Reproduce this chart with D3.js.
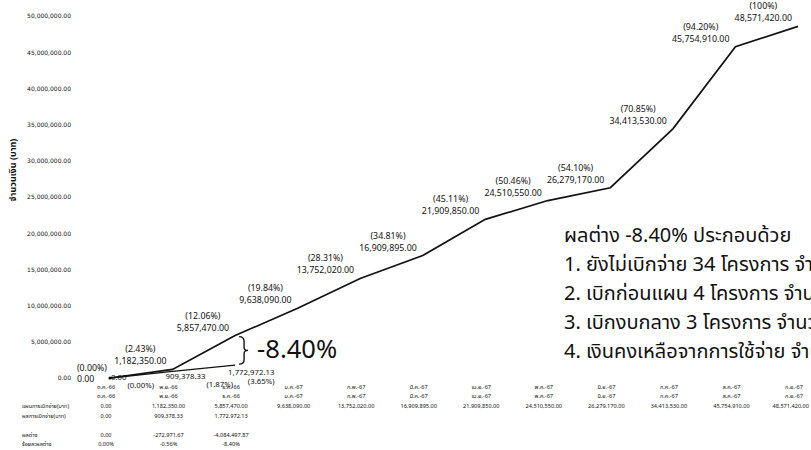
<!DOCTYPE html>
<html><head><meta charset="utf-8">
<script src="https://cdn.jsdelivr.net/npm/d3@7/dist/d3.min.js"></script>
<style>
html,body{margin:0;padding:0;background:#fff;}
svg{display:block;}
text{font-family:"Noto Sans Thai","Noto Sans Thai UI","Noto Sans","DejaVu Sans",sans-serif;fill:#111;}
</style></head>
<body>
<svg id="chart" width="811" height="450"></svg>
<script>
const months = ["ต.ค.-66","พ.ย.-66","ธ.ค.-66","ม.ค.-67","ก.พ.-67","มี.ค.-67","เม.ย.-67","พ.ค.-67","มิ.ย.-67","ก.ค.-67","ส.ค.-67","ก.ย.-67"];
const planValues = [0, 1182350, 5857470, 9638090, 13752020, 16909895, 21909850, 24510550, 26279170, 34413530, 45754910, 48571420];
const planPct = ["0.00%","2.43%","12.06%","19.84%","28.31%","34.81%","45.11%","50.46%","54.10%","70.85%","94.20%","100%"];
const actualValues = [0, 909378.33, 1772972.13];
const actualPct = ["0.00%","1.87%","3.65%"];
const diffValues = ["0.00","-272,971.67","-4,084,497.87"];
const diffPct = ["0.00%","-0.56%","-8.40%"];
const yTicks = [0,5000000,10000000,15000000,20000000,25000000,30000000,35000000,40000000,45000000,50000000];
const rowLabels = ["แผนการเบิกจ่าย(บาท)","ผลการเบิกจ่าย(บาท)","ผลต่าง","ร้อยละผลต่าง"];
const yTitle = "จำนวนเงิน (บาท)";
const gapLabel = "-8.40%";
const noteLines = ["ผลต่าง -8.40% ประกอบด้วย","1. ยังไม่เบิกจ่าย 34 โครงการ จำนวน","2. เบิกก่อนแผน 4 โครงการ จำนวน","3. เบิกงบกลาง 3 โครงการ จำนวน","4. เงินคงเหลือจากการใช้จ่าย จำนวน"];

const svg = d3.select("#chart");
const fmt = d3.format(",.2f");
const x = d3.scalePoint().domain(months).range([110, 798]);
const y = d3.scaleLinear().domain([0, 50000000]).range([378, 16]);

// y axis labels (no line)
const yAxis = d3.axisLeft(y).tickValues(yTicks).tickFormat(fmt).tickSize(0).tickPadding(0);
const ya = svg.append("g").attr("transform","translate(71,0)").call(yAxis);
ya.select(".domain").remove();
ya.selectAll("text").style("font-size","6px").style("font-family","'DejaVu Sans',sans-serif").attr("fill","#111");

svg.append("text").attr("transform","translate(16,170) rotate(-90)")
  .attr("text-anchor","middle").style("font-size","9px").style("font-weight","bold").text(yTitle);

// lines
const line = d3.line().x((d,i)=>x(months[i])).y(d=>y(d));
svg.append("path").datum(planValues).attr("d",line).attr("fill","none").attr("stroke","#111").attr("stroke-width",1.7);
svg.append("path").datum(actualValues).attr("d",line).attr("fill","none").attr("stroke","#111").attr("stroke-width",1.3);
svg.append("circle").attr("cx",x(months[0])).attr("cy",y(planValues[0])).attr("r",1.6).attr("fill","#111");

// plan labels
const lblFont = "8.8px";
planValues.forEach((v,i)=>{
  const px = x(months[i]), py = y(v);
  const g = svg.append("g");
  const vt = g.append("text").style("font-size",lblFont).text(fmt(v));
  const pt = g.append("text").style("font-size",lblFont).text("(" + planPct[i] + ")");
  const w = vt.node().getComputedTextLength();
  const wp = pt.node().getComputedTextLength();
  if (i === 0) {
    pt.attr("x", px - 3).attr("y", py - 7).attr("text-anchor","end");
    vt.attr("x", px - 3 - wp).attr("y", py + 4);
  } else {
    const cx = px - 6 - w/2;
    vt.attr("x", cx).attr("y", py - 5).attr("text-anchor","middle");
    pt.attr("x", cx).attr("y", py - 17).attr("text-anchor","middle");
  }
});

// actual labels
const actFont = "7.8px";
actualValues.forEach((v,i)=>{
  const px = x(months[i]), py = y(v);
  const last = i === actualValues.length-1;
  const sx0 = i===0 ? px+1 : px-7;
  const vt = svg.append("text").style("font-size",actFont).attr("x", sx0).attr("y", py + (i===0?2:(last?10:8))).text(fmt(v));
  const w = vt.node().getComputedTextLength();
  const sx = sx0 + w;
  svg.append("text").style("font-size",actFont)
    .attr("x", last ? sx : sx+1).attr("y", py + (i===0?10:(last?19:16)))
    .attr("text-anchor", last ? "end" : "start").text("(" + actualPct[i] + ")");
});

// gap brace and label
const xd = x(months[actualValues.length-1]);
const yTop = y(planValues[actualValues.length-1]) + 1, yBot = y(actualValues[actualValues.length-1]) - 1;
const ym = (yTop + yBot)/2, bx = xd + 4;
svg.append("path").attr("fill","none").attr("stroke","#111").attr("stroke-width",1.4)
  .attr("d",`M${bx},${yTop} Q${bx+5},${yTop} ${bx+5},${yTop+5} L${bx+5},${ym-3} Q${bx+5},${ym} ${bx+9},${ym} Q${bx+5},${ym} ${bx+5},${ym+3} L${bx+5},${yBot-5} Q${bx+5},${yBot} ${bx},${yBot}`);
svg.append("text").attr("x", xd + 22).attr("y", ym + 7.5).style("font-size","25.5px").text(gapLabel);

// table below
const tbl = svg.append("g").style("font-size","5.6px");
const rowY = [408, 418, 437, 446];
rowLabels.forEach((t,r)=>{
  tbl.append("text").attr("x",22).attr("y",rowY[r]).style("font-size","5.5px").text(t);
});
function cell(cx, yy, t){
  const el = tbl.append("text").attr("x",cx).attr("y",yy).attr("text-anchor","middle").text(t);
  const w = el.node().getComputedTextLength();
  if (cx + w/2 > 809) el.attr("x", 809).attr("text-anchor","end");
}
months.forEach((m,i)=>{
  const cx = x(m) - 4;
  cell(cx, 389, m);
  cell(cx, 398, m);
  cell(cx, rowY[0], fmt(planValues[i]));
  if (i < actualValues.length) {
    cell(cx, rowY[1], fmt(actualValues[i]));
    cell(cx, rowY[2], diffValues[i]);
    cell(cx, rowY[3], diffPct[i]);
  }
});

// note block
noteLines.forEach((t,i)=>{
  svg.append("text").attr("x",564).attr("y",242 + i*29).style("font-size","20px").text(t);
});
</script>
</body></html>
